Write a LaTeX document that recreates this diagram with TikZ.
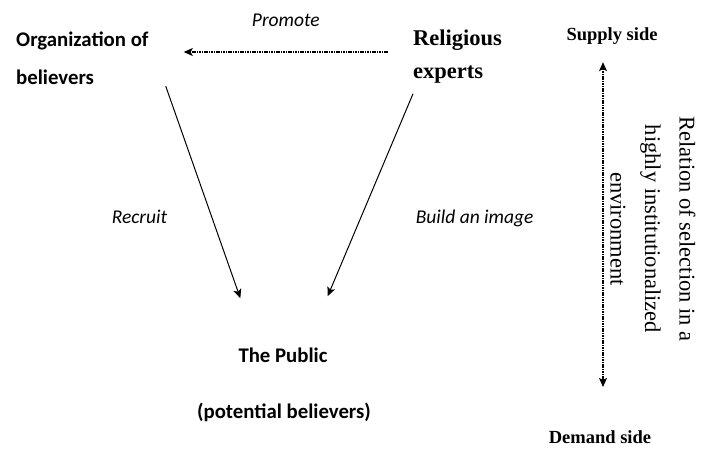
\documentclass[tikz,border=0pt]{standalone}
\usepackage{fontspec}
\setmainfont{Liberation Serif}
\newfontfamily\carlito{Carlito}
\usetikzlibrary{arrows.meta}

\begin{document}
\begin{tikzpicture}[
    x=1pt, y=1pt,
    >={Stealth[length=9pt,width=8pt,inset=2pt]},
    every node/.style={inner sep=0pt},
    actor/.style={font=\carlito\bfseries\fontsize{20.8}{38}\selectfont, align=left},
    expert/.style={font=\bfseries\fontsize{22.5}{33}\selectfont, align=left},
    verb/.style={font=\carlito\itshape\fontsize{19.5}{24}\selectfont},
    side/.style={font=\bfseries\fontsize{18.5}{22}\selectfont},
    fine/.style={dash pattern=on 1.6pt off 0.8pt, line width=1.1pt}
]
\useasboundingbox (0,0) rectangle (702,-448);

\node[actor, anchor=north west] (org) at (16,-32) {Organization of\\believers};
\node[expert, anchor=north west] (rel) at (413,-30) {Religious\\experts};
\node[actor, anchor=base] (pub) at (283,-362) {The Public};
\node[actor, anchor=base] (pot) at (284,-418) {(potential believers)};
\node[side, anchor=base] (sup) at (612,-40) {Supply side};
\node[side, anchor=base] (dem) at (600,-443) {Demand side};
\node[font=\fontsize{22.5}{34.5}\selectfont, align=center, rotate=-90] (sel) at (653,-229)
    {Relation of selection in a\\highly institutionalized\\environment};

\path[->, line width=1pt]
([shift={(-25,-22)}]rel.north west) edge[fine] node[verb, above=25pt]{Promote} ([shift={(35,-20)}]org.north east)
([shift={(17,-1)}]org.south east) edge node[verb, pos=0.616, left=44pt]{Recruit} ([shift={(2,49)}]pub.north west)
([shift={(0,-10)}]rel.south west) edge node[verb, pos=0.618, right=55pt]{Build an image} ([shift={(0,51)}]pub.north east)
([shift={(-9,-18)}]sup.south) edge[fine, <->] ([shift={(3,43)}]dem.north);
\end{tikzpicture}
\end{document}
